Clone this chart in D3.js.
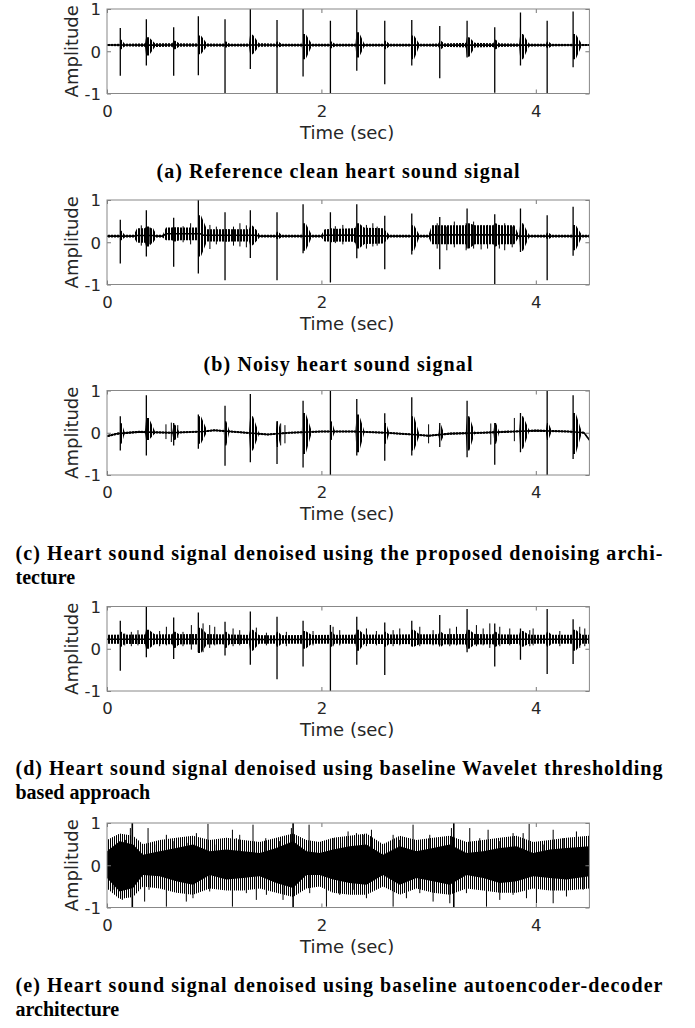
<!DOCTYPE html>
<html lang="en">
<head>
<meta charset="UTF-8">
<title>Heart sound denoising</title>
<script src="https://cdnjs.cloudflare.com/ajax/libs/d3/7.8.5/d3.min.js"></script>
<style>
    body { margin: 0; background: #fff; }
    .tick text { font-family: "DejaVu Sans", sans-serif; font-size: 16.5px; fill: #262626; }
    .tick line { stroke: #777; }
    .label { font-family: "DejaVu Sans", sans-serif; font-size: 18px; fill: #262626; }
    .caption { font-family: "Liberation Serif", serif; font-weight: bold; font-size: 20px; fill: #000; }
</style>
</head>
<body>
<div id="chart"></div>
<script>
// ---- data ----
const xTicks = [0, 2, 4];
const yTicks = [-1, 0, 1];

// heart beat (S1/S2) positions, same in panels a-d
const beatTime = [0.124, 0.367, 0.622, 0.852, 1.101, 1.337, 1.586, 1.829, 2.084, 2.330, 2.591, 2.843, 3.104, 3.359, 3.617, 3.857, 4.106, 4.348];
const burstLen = [0.04, 0.08, 0.05, 0.08, 0.04, 0.08, 0.04, 0.08, 0.04, 0.07, 0.04, 0.07, 0.04, 0.07, 0.04, 0.08, 0.04, 0.08];

// (a) clean
const peakA = [0.55, 0.76, 0.57, 0.83, 0.76, 1.0, 0.74, 1.0, 0.72, 0.98, 0.72, 0.74, 0.60, 0.72, 0.57, 0.92, 0.72, 0.94];
const troughA = [-0.58, -0.34, -0.58, -0.57, -1.0, -0.42, -1.0, -0.60, -1.0, -0.46, -0.78, -0.34, -0.64, -0.15, -0.98, -0.34, -1.0, -0.38];
const burstHiA = [0.27, 0.33, 0.25, 0.37, 0.23, 0.39, 0.23, 0.41, 0.23, 0.45, 0.25, 0.37, 0.25, 0.33, 0.27, 0.41, 0.23, 0.41];
const burstLoA = [0.05, -0.10, 0.05, -0.07, 0.09, -0.07, 0.09, -0.19, 0.07, -0.15, 0.05, -0.19, 0.05, -0.13, 0.05, -0.19, 0.07, -0.19];
const floorTimeA = [0, 0.45, 0.6, 1.2, 1.45, 1.6, 2.0, 3.0, 3.4, 3.6, 4.0, 4.5];
const floorHiA = [0.17, 0.19, 0.19, 0.175, 0.19, 0.175, 0.175, 0.18, 0.20, 0.19, 0.175, 0.17];
const floorLoA = [0.125, 0.10, 0.105, 0.115, 0.105, 0.115, 0.115, 0.11, 0.09, 0.10, 0.115, 0.125];

// (b) noisy
const peakB = [0.53, 0.76, 0.58, 1.0, 0.71, 0.76, 0.71, 0.90, 0.71, 0.90, 0.63, 0.68, 0.60, 0.80, 0.66, 0.80, 0.64, 0.84];
const troughB = [-0.50, -0.34, -0.58, -0.74, -0.90, -0.37, -0.90, -0.26, -0.95, -0.38, -0.64, -0.29, -0.64, -0.15, -1.0, -0.23, -0.90, -0.32];
const burstHiB = [0.27, 0.37, 0.35, 0.64, 0.30, 0.39, 0.25, 0.45, 0.33, 0.45, 0.27, 0.40, 0.30, 0.45, 0.45, 0.45, 0.23, 0.41];
const burstLoB = [0.05, -0.10, 0.02, -0.34, 0.02, -0.07, 0.07, -0.20, 0.0, -0.15, 0.02, -0.20, 0.0, -0.15, -0.10, -0.20, 0.07, -0.19];
const floorTimeB = [0, 0.25, 0.28, 0.43, 0.46, 0.52, 0.55, 0.87, 0.90, 1.39, 1.42, 2.00, 2.03, 2.30, 2.33, 2.58, 2.62, 3.00, 3.03, 3.80, 3.84, 4.5];
const floorHiB = [0.175, 0.175, 0.33, 0.33, 0.18, 0.18, 0.35, 0.35, 0.31, 0.31, 0.18, 0.18, 0.31, 0.33, 0.35, 0.33, 0.18, 0.18, 0.40, 0.40, 0.18, 0.175];
const floorLoB = [0.115, 0.115, -0.01, -0.01, 0.11, 0.11, 0.05, 0.05, 0.02, 0.02, 0.11, 0.11, 0.02, 0.01, -0.05, -0.03, 0.11, 0.11, -0.05, -0.05, 0.11, 0.115];
const spikeTimeB = [0.32, 0.40, 0.71, 0.78, 0.96, 1.02, 1.18, 1.24, 1.30, 2.13, 2.20, 2.42, 2.48, 2.52, 3.08, 3.17, 3.24, 3.35, 3.42, 3.49, 3.55, 3.66, 3.71, 3.78];
const spikeHiB = [0.40, 0.35, 0.38, 0.45, 0.41, 0.37, 0.37, 0.45, 0.40, 0.38, 0.41, 0.41, 0.45, 0.37, 0.45, 0.37, 0.49, 0.45, 0.49, 0.41, 0.41, 0.41, 0.45, 0.37];
const spikeLoB = [-0.08, -0.05, 0.0, -0.05, -0.16, -0.05, -0.08, -0.10, -0.12, -0.02, -0.05, -0.15, -0.10, -0.08, -0.15, -0.19, -0.12, -0.19, -0.15, -0.17, -0.15, -0.15, -0.19, -0.12];

// (c) proposed architecture
const peakC = [0.39, 0.89, 0.23, 0.43, 0.64, 0.92, 0.27, 0.76, 1.0, 0.80, 0.46, 0.84, 0.23, 0.76, 0.23, 0.47, 1.0, 0.89];
const troughC = [-0.42, -0.54, -0.30, -0.38, -0.78, -0.70, -0.74, -0.82, -1.0, -0.54, -0.66, -0.54, -0.34, -0.58, -0.76, -0.46, -1.0, -0.62];
const burstHiC = [0.23, 0.35, 0.19, 0.39, 0.27, 0.39, 0.27, 0.47, 0.27, 0.43, 0.23, 0.39, 0.19, 0.39, 0.23, 0.39, 0.23, 0.47];
const burstLoC = [-0.26, -0.17, -0.17, -0.26, -0.30, -0.42, -0.34, -0.50, -0.17, -0.46, -0.26, -0.42, -0.21, -0.42, -0.26, -0.38, -0.17, -0.50];
const floorTimeC = [0, 0.1, 0.3, 0.6, 0.9, 1.0, 1.3, 1.5, 1.7, 2.0, 2.3, 2.6, 2.85, 3.0, 3.2, 3.5, 3.8, 4.0, 4.3, 4.45, 4.5];
const floorHiC = [-0.055, 0.005, 0.045, 0.025, 0.055, 0.085, 0.025, -0.015, 0.025, 0.055, 0.055, 0.025, -0.015, -0.045, 0.005, 0.025, 0.055, 0.075, 0.055, 0.025, -0.145];
const floorLoC = [-0.105, -0.045, -0.005, -0.025, 0.005, 0.035, -0.025, -0.065, -0.025, 0.005, 0.005, -0.025, -0.065, -0.095, -0.045, -0.025, 0.005, 0.025, 0.005, -0.025, -0.195];
const spikeTimeC = [0.55, 0.60, 0.66, 1.62, 1.66, 3.00, 3.58, 3.80];
const spikeHiC = [0.20, 0.24, 0.18, 0.22, 0.18, 0.20, 0.22, 0.35];
const spikeLoC = [-0.15, -0.22, -0.12, -0.30, -0.25, -0.25, -0.28, -0.20];

// (d) wavelet thresholding
const peakD = [0.66, 1.0, 0.74, 0.86, 0.64, 0.88, 0.76, 0.66, 0.56, 0.76, 0.62, 0.66, 0.80, 0.94, 0.60, 0.48, 0.94, 0.70];
const troughD = [-0.52, -0.20, -0.24, -0.08, -0.16, -0.38, -0.72, -0.42, -1.0, -0.38, -0.62, 0.08, 0.08, -0.08, -0.42, -0.26, -0.60, -0.36];
const burstHiD = [0.40, 0.45, 0.40, 0.50, 0.40, 0.45, 0.40, 0.42, 0.40, 0.45, 0.40, 0.45, 0.40, 0.45, 0.40, 0.42, 0.40, 0.45];
const burstLoD = [0.05, 0.0, 0.02, -0.10, 0.02, -0.05, 0.05, 0.0, 0.05, -0.05, 0.05, 0.05, 0.05, 0.0, 0.05, 0.05, 0.05, -0.05];
const floorTimeD = [0, 0.9, 1.5, 2.2, 3.4, 4.0, 4.5];
const floorHiD = [0.33, 0.35, 0.32, 0.33, 0.35, 0.33, 0.33];
const floorLoD = [0.12, 0.10, 0.12, 0.12, 0.10, 0.12, 0.12];
const spikeTimeD = [0.165, 0.227, 0.289, 0.491, 0.554, 0.709, 0.787, 0.896, 0.958, 1.005, 1.176, 1.238, 1.393, 1.487, 1.673, 1.922, 2.109, 2.171, 2.420, 2.513, 2.669, 2.731, 2.918, 3.042, 3.198, 3.260, 3.446, 3.509, 3.571, 3.664, 3.757, 3.944, 3.975, 4.224, 4.410, 4.457];
const spikeHiD = [0.36, 0.40, 0.44, 0.42, 0.52, 0.40, 0.56, 0.60, 0.56, 0.52, 0.48, 0.44, 0.50, 0.38, 0.40, 0.42, 0.52, 0.44, 0.48, 0.42, 0.44, 0.48, 0.52, 0.44, 0.48, 0.52, 0.56, 0.48, 0.60, 0.52, 0.48, 0.44, 0.48, 0.42, 0.52, 0.48];
const spikeLoD = [0.08, 0.06, 0.08, 0.06, 0.08, 0.06, -0.02, -0.08, 0.02, 0.08, 0.06, 0.08, 0.06, 0.08, 0.06, 0.08, 0.06, 0.08, 0.06, 0.08, 0.06, 0.08, 0.06, 0.08, 0.06, 0.08, 0.06, 0.08, 0.02, 0.06, 0.08, 0.06, 0.08, 0.06, 0.02, 0.06];

// (e) autoencoder-decoder: dense envelope + individual spikes
const envTimeE = [0, 0.118, 0.243, 0.336, 0.491, 0.647, 0.802, 0.958, 1.114, 1.269, 1.425, 1.580, 1.736, 1.860, 1.984, 2.109, 2.264, 2.420, 2.575, 2.731, 2.886, 3.042, 3.198, 3.353, 3.509, 3.664, 3.820, 3.975, 4.131, 4.286, 4.5];
const coreHiE = [0.33, 0.57, 0.49, 0.25, 0.33, 0.41, 0.49, 0.33, 0.37, 0.33, 0.29, 0.41, 0.57, 0.33, 0.29, 0.37, 0.45, 0.49, 0.25, 0.45, 0.33, 0.41, 0.49, 0.29, 0.33, 0.41, 0.45, 0.29, 0.37, 0.41, 0.45];
const coreLoE = [-0.30, -0.62, -0.54, -0.23, -0.26, -0.38, -0.46, -0.23, -0.34, -0.30, -0.26, -0.42, -0.54, -0.23, -0.23, -0.34, -0.42, -0.46, -0.23, -0.46, -0.30, -0.38, -0.46, -0.23, -0.30, -0.42, -0.38, -0.26, -0.30, -0.34, -0.26];
const outerHiE = [0.60, 0.75, 0.70, 0.50, 0.60, 0.65, 0.70, 0.60, 0.65, 0.60, 0.55, 0.65, 0.75, 0.60, 0.55, 0.65, 0.70, 0.75, 0.50, 0.70, 0.60, 0.65, 0.70, 0.55, 0.60, 0.65, 0.70, 0.55, 0.60, 0.65, 0.70];
const outerLoE = [-0.55, -0.80, -0.75, -0.50, -0.55, -0.65, -0.70, -0.55, -0.60, -0.60, -0.55, -0.65, -0.75, -0.55, -0.50, -0.65, -0.70, -0.70, -0.50, -0.70, -0.55, -0.65, -0.70, -0.55, -0.60, -0.65, -0.65, -0.55, -0.60, -0.60, -0.55];
const spikeTimeE = [0.025, 0.124, 0.174, 0.218, 0.236, 0.383, 0.460, 0.554, 0.616, 0.756, 0.834, 0.942, 1.005, 1.170, 1.207, 1.238, 1.362, 1.481, 1.611, 1.720, 1.736, 1.885, 2.009, 2.109, 2.196, 2.249, 2.327, 2.389, 2.467, 2.669, 2.731, 2.855, 3.011, 3.073, 3.213, 3.235, 3.384, 3.477, 3.555, 3.664, 3.788, 3.882, 3.938, 4.068, 4.162, 4.255, 4.379, 4.488,
    0.056, 0.143, 0.236, 0.351, 0.392, 0.554, 0.740, 0.802, 0.958, 1.170, 1.300, 1.393, 1.487, 1.642, 1.736, 1.891, 2.047, 2.171, 2.296, 2.420, 2.669, 2.793, 2.918, 3.042, 3.198, 3.235, 3.353, 3.540, 3.664, 3.788, 3.913, 4.006, 4.162, 4.286, 4.442];
const spikeValE = [0.37, 0.57, 0.60, 0.88, 1.0, 0.88, 0.49, 0.72, 0.57, 0.53, 0.76, 0.98, 0.49, 0.84, 0.64, 0.72, 0.96, 0.64, 0.57, 0.88, 1.0, 0.96, 0.57, 0.64, 0.53, 0.80, 0.76, 0.72, 0.84, 0.72, 0.60, 0.96, 0.72, 0.49, 0.88, 1.0, 0.88, 0.64, 0.84, 0.57, 0.76, 0.76, 0.98, 0.49, 0.84, 0.64, 0.80, 0.41,
    -0.58, -0.82, -1.0, -0.86, -0.58, -0.98, -0.86, -0.78, -0.62, -0.98, -0.66, -0.82, -0.70, -0.82, -1.0, -0.66, -0.98, -0.70, -0.58, -0.78, -0.98, -0.78, -0.66, -0.86, -0.90, -1.0, -0.66, -0.98, -0.82, -0.70, -0.78, -0.90, -0.90, -0.74, -0.58];

const captions = [
    ["(a) Reference clean heart sound signal"],
    ["(b) Noisy heart sound signal"],
    ["(c) Heart sound signal denoised using the proposed denoising archi-", "tecture"],
    ["(d) Heart sound signal denoised using baseline Wavelet thresholding", "based approach"],
    ["(e) Heart sound signal denoised using baseline autoencoder-decoder", "architecture"]
];

// ---- layout ----
const width = 695, height = 1028;
const plotTop = [9, 200, 390.5, 606.5, 823];
const plotH = 84.5;
const captionY = [[178], [371], [560, 584], [775, 799], [992, 1016]];
const captionWidth = [363, 269, 647, 647, 647];

const svg = d3.select("#chart").append("svg")
    .attr("width", width)
    .attr("height", height);

// vertical hatch patterns to mimic densely packed signal lines
const defs = svg.append("defs");
[["hatchDark", 3, 2], ["hatchMid", 2, 1]].forEach(([id, period, w]) => {
    defs.append("pattern").attr("id", id)
        .attr("patternUnits", "userSpaceOnUse")
        .attr("width", period).attr("height", 10)
        .append("rect").attr("width", w).attr("height", 10).attr("fill", "#000");
});

const x = d3.scaleLinear().domain([0, 4.5]).range([107, 589.4]);

const zip = (t, hi, lo) => t.map((d, i) => ({ t: d, hi: hi[i], lo: lo[i] }));

const panels = [
    { floor: zip(floorTimeA, floorHiA, floorLoA), peak: peakA, trough: troughA, bHi: burstHiA, bLo: burstLoA },
    { floor: zip(floorTimeB, floorHiB, floorLoB), peak: peakB, trough: troughB, bHi: burstHiB, bLo: burstLoB,
      spikes: zip(spikeTimeB, spikeHiB, spikeLoB) },
    { floor: zip(floorTimeC, floorHiC, floorLoC), peak: peakC, trough: troughC, bHi: burstHiC, bLo: burstLoC,
      spikes: zip(spikeTimeC, spikeHiC, spikeLoC) },
    { floor: zip(floorTimeD, floorHiD, floorLoD), peak: peakD, trough: troughD, bHi: burstHiD, bLo: burstLoD,
      spikes: zip(spikeTimeD, spikeHiD, spikeLoD) },
    { dense: true }
];

panels.forEach((p, k) => {
    const top = plotTop[k];
    const y = d3.scaleLinear().domain([-1, 1]).range([top + plotH, top]);
    const g = svg.append("g");

    g.append("clipPath").attr("id", "clip" + k)
        .append("rect")
        .attr("x", x(0)).attr("y", top)
        .attr("width", x(4.5) - x(0)).attr("height", plotH);

    const plot = g.append("g").attr("clip-path", `url(#clip${k})`);
    const band = d3.area().x(d => x(d.t)).y0(d => y(d.lo)).y1(d => y(d.hi));
    const mid = d3.line().x(d => x(d.t)).y(d => y((d.hi + d.lo) / 2));

    if (p.dense) {
        plot.append("path").datum(zip(envTimeE, outerHiE, outerLoE))
            .attr("d", band).attr("fill", "url(#hatchMid)");
        plot.append("path").datum(zip(envTimeE, coreHiE, coreLoE))
            .attr("d", band).attr("fill", "#000");
        plot.selectAll("line.sp").data(spikeTimeE).enter().append("line")
            .attr("x1", d => x(d)).attr("x2", d => x(d))
            .attr("y1", y(0)).attr("y2", (d, i) => y(spikeValE[i]))
            .attr("stroke", "#000").attr("stroke-width", (d, i) => Math.abs(spikeValE[i]) >= 1 ? 1.6 : 1);
    } else {
        const fHi = d3.scaleLinear().domain(p.floor.map(d => d.t)).range(p.floor.map(d => d.hi));
        const fLo = d3.scaleLinear().domain(p.floor.map(d => d.t)).range(p.floor.map(d => d.lo));

        // background noise: hatched envelope with the trace running through it
        plot.append("path").datum(p.floor)
            .attr("d", band).attr("fill", "url(#hatchDark)");
        plot.append("path").datum(p.floor)
            .attr("d", mid).attr("fill", "none")
            .attr("stroke", "#000").attr("stroke-width", 1.6);

        // decaying bursts around each beat
        beatTime.forEach((t, i) => {
            const len = burstLen[i];
            const pts = [
                { t: t - 0.012, hi: fHi(t - 0.012), lo: fLo(t - 0.012) },
                { t: t - 0.002, hi: p.bHi[i], lo: p.bLo[i] },
                { t: t + len * 0.3, hi: p.bHi[i], lo: p.bLo[i] },
                { t: t + len, hi: fHi(t + len), lo: fLo(t + len) }
            ];
            plot.append("path").datum(pts).attr("d", band).attr("fill", "url(#hatchDark)");
        });

        if (p.spikes) {
            plot.selectAll("line.extra").data(p.spikes).enter().append("line")
                .attr("x1", d => x(d.t)).attr("x2", d => x(d.t))
                .attr("y1", d => y(d.lo)).attr("y2", d => y(d.hi))
                .attr("stroke", "#000").attr("stroke-width", 1);
        }

        plot.selectAll("line.beat").data(beatTime).enter().append("line")
            .attr("x1", d => x(d)).attr("x2", d => x(d))
            .attr("y1", (d, i) => y(p.trough[i])).attr("y2", (d, i) => y(p.peak[i]))
            .attr("stroke", "#000").attr("stroke-width", 1.3);
    }

    // axes
    const axB = g.append("g").attr("transform", `translate(0,${top + plotH})`)
        .call(d3.axisBottom(x).tickValues(xTicks).tickSize(-4).tickFormat(d => String(d)));
    const axT = g.append("g").attr("transform", `translate(0,${top})`)
        .call(d3.axisTop(x).tickValues(xTicks).tickSize(-4).tickFormat(""));
    const axL = g.append("g").attr("transform", `translate(${x(0)},0)`)
        .call(d3.axisLeft(y).tickValues(yTicks).tickSize(-4).tickPadding(6).tickFormat(d => String(d)));
    const axR = g.append("g").attr("transform", `translate(${x(4.5)},0)`)
        .call(d3.axisRight(y).tickValues(yTicks).tickSize(-4).tickFormat(""));
    [axB, axT, axL, axR].forEach(a => a.select(".domain").remove());
    axB.selectAll("text").attr("dy", null).attr("y", 23);
    axL.selectAll("text").attr("dy", "0.35em");

    g.append("rect")
        .attr("x", x(0)).attr("y", top)
        .attr("width", x(4.5) - x(0)).attr("height", plotH)
        .attr("fill", "none").attr("stroke", "#888").attr("stroke-width", 1);

    g.append("text").attr("class", "label")
        .attr("transform", `translate(78,${top + plotH / 2}) rotate(-90)`)
        .attr("text-anchor", "middle")
        .text("Amplitude");

    g.append("text").attr("class", "label")
        .attr("x", (x(0) + x(4.5)) / 2 - 1).attr("y", top + plotH + 45)
        .attr("text-anchor", "middle")
        .text("Time (sec)");

    // caption
    captions[k].forEach((line, j) => {
        const t = svg.append("text").attr("class", "caption")
            .attr("y", captionY[k][j])
            .text(line);
        if (captions[k].length === 1) {
            t.attr("x", 338).attr("text-anchor", "middle")
                .attr("textLength", captionWidth[k]).attr("lengthAdjust", "spacing");
        } else if (j === 0) {
            t.attr("x", 15.5)
                .attr("textLength", captionWidth[k]).attr("lengthAdjust", "spacing");
        } else {
            t.attr("x", 15.5);
        }
    });
});
</script>
</body>
</html>
